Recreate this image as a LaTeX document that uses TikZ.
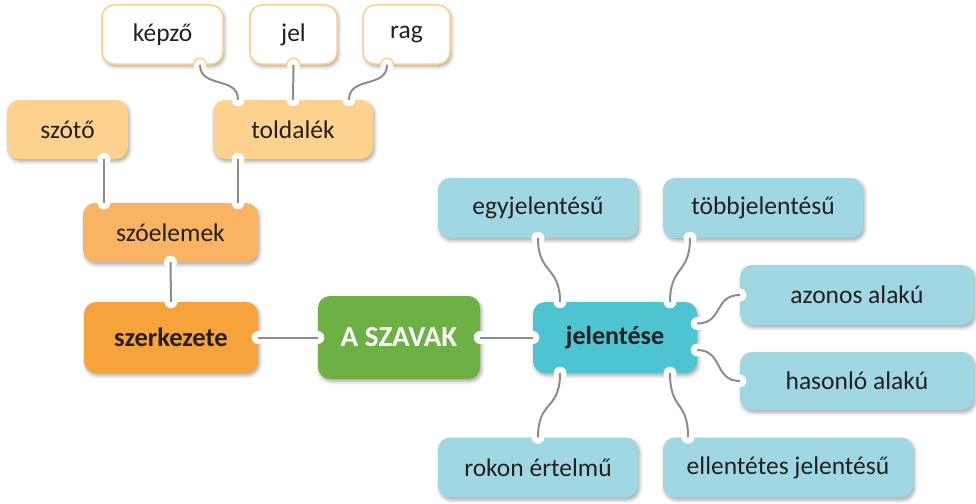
\documentclass[tikz,border=0pt]{standalone}
\usepackage{fontspec}
\setmainfont{Carlito}
\usetikzlibrary{shadows.blur,calc}
\definecolor{txt}{HTML}{231F20}
\definecolor{wborder}{HTML}{FBD08C}
\definecolor{lorange}{HTML}{FDD18E}
\definecolor{morange}{HTML}{F9B463}
\definecolor{dorange}{HTML}{F7A33B}
\definecolor{green}{HTML}{6DB043}
\definecolor{teal}{HTML}{4EC4D0}
\definecolor{lblue}{HTML}{9FD8E2}
\definecolor{linkc}{HTML}{8C8C8C}
\tikzset{
  box/.style={rectangle, rounded corners=12pt, minimum height=59pt, inner sep=0pt,
    text=txt, font=\fontsize{25.5}{29}\selectfont,
    blur shadow={shadow xshift=1.5pt, shadow yshift=-2.5pt, shadow blur radius=3.5pt, shadow opacity=35}},
  wbox/.style={box, fill=white, draw=wborder, line width=1.5pt},
  lobox/.style={box, fill=lorange},
  mobox/.style={box, fill=morange},
  dobox/.style={box, fill=dorange, minimum height=71pt, font=\fontsize{26.5}{30}\selectfont\bfseries},
  gbox/.style={box, fill=green, minimum height=83pt, text=white, font=\fontsize{29}{32}\selectfont\bfseries},
  tbox/.style={box, fill=teal, minimum height=71pt, font=\fontsize{26}{30}\selectfont\bfseries},
  bbox/.style={box, fill=lblue, minimum height=60pt},
  link/.style={draw=linkc, line width=2pt},
  notchfill/.style={fill=white},
}
\begin{document}
\begin{tikzpicture}[x=1pt,y=-1pt]
\useasboundingbox (0,0) rectangle (976,503);
% nodes
\node[wbox, minimum width=121pt] (kepzo) at (162.5,34.5) {képző};
\node[wbox, minimum width=87pt] (jel) at (293.5,34.5) {jel};
\node[wbox, minimum width=87pt] (rag) at (406.5,34.5) {rag};
\node[lobox, minimum width=121pt] (szoto) at (67.5,129.5) {szótő};
\node[lobox, minimum width=160pt] (toldalek) at (293,129.5) {toldalék};
\node[mobox, minimum width=175pt] (szoelemek) at (170.5,232.5) {szóelemek};
\node[dobox, minimum width=174pt] (szerkezete) at (171,337.5) {szerkezete};
\node[gbox, minimum width=162pt] (szavak) at (399,337.5) {A SZAVAK};
\node[tbox, minimum width=164pt] (jelentese) at (615,337.5) {jelentése};
\node[bbox, minimum width=200pt] (egy) at (538,208) {egyjelentésű};
\node[bbox, minimum width=200pt] (tobb) at (763,208) {többjelentésű};
\node[bbox, minimum width=234pt] (azonos) at (857,295) {azonos alakú};
\node[bbox, minimum width=234pt, minimum height=58pt] (hasonlo) at (857,381) {hasonló alakú};
\node[bbox, minimum width=200pt] (rokon) at (538,467.5) {rokon értelmű};
\node[bbox, minimum width=250pt] (ellentetes) at (788,467.5) {ellentétes jelentésű};
% notch points
\coordinate (kepzo-s) at ([xshift=37.5pt]kepzo.south);
\coordinate (jel-s) at (jel.south);
\coordinate (rag-s) at ([xshift=-19.5pt]rag.south);
\coordinate (told-n1) at ([xshift=-55pt]toldalek.north);
\coordinate (told-n2) at (toldalek.north);
\coordinate (told-n3) at ([xshift=56pt]toldalek.north);
\coordinate (told-s) at ([xshift=-55pt]toldalek.south);
\coordinate (szoto-s) at ([xshift=36.5pt]szoto.south);
\coordinate (szoel-n1) at ([xshift=-66.5pt]szoelemek.north);
\coordinate (szoel-n2) at ([xshift=67.5pt]szoelemek.north);
\coordinate (szoel-s) at (szoelemek.south);
\coordinate (szerk-n) at (szerkezete.north);
\coordinate (szerk-e) at (szerkezete.east);
\coordinate (szavak-w) at (szavak.west);
\coordinate (szavak-e) at (szavak.east);
\coordinate (jelt-w) at (jelentese.west);
\coordinate (jelt-n1) at ([xshift=-55pt]jelentese.north);
\coordinate (jelt-n2) at ([xshift=55pt]jelentese.north);
\coordinate (jelt-s1) at ([xshift=-55pt]jelentese.south);
\coordinate (jelt-s2) at ([xshift=55pt]jelentese.south);
\coordinate (jelt-e1) at ([yshift=14pt]jelentese.east);
\coordinate (jelt-e2) at ([yshift=-12.5pt]jelentese.east);
\coordinate (egy-s) at (egy.south);
\coordinate (tobb-s) at ([xshift=-73pt]tobb.south);
\coordinate (azonos-w) at (azonos.west);
\coordinate (hasonlo-w) at (hasonlo.west);
\coordinate (rokon-n) at (rokon.north);
\coordinate (ellent-n) at ([xshift=-100pt]ellentetes.north);
% notches
\foreach \p in {kepzo-s,jel-s,rag-s,told-n1,told-n2,told-n3,told-s,szoto-s,szoel-n1,szoel-n2,szoel-s,
  szerk-n,szerk-e,szavak-w,szavak-e,jelt-w,jelt-n1,jelt-n2,jelt-s1,jelt-s2,jelt-e1,jelt-e2,
  egy-s,tobb-s,azonos-w,hasonlo-w,rokon-n,ellent-n}
  \fill[notchfill] (\p) circle (6.5);
\foreach \p in {kepzo-s,jel-s,rag-s}
  \draw[wborder, line width=1.5pt] ($(\p)+(6.5,0)$) arc (0:-180:6.5);
% connectors
\draw[link] (kepzo-s) .. controls +(0,24) and +(0,-24) .. (told-n1);
\draw[link] (jel-s) -- (told-n2);
\draw[link] (rag-s) .. controls +(0,24) and +(0,-24) .. (told-n3);
\draw[link] (szoto-s) -- (szoel-n1);
\draw[link] (told-s) -- (szoel-n2);
\draw[link] (szoel-s) -- (szerk-n);
\draw[link] (szerk-e) -- (szavak-w);
\draw[link] (szavak-e) -- (jelt-w);
\draw[link] (egy-s) .. controls +(0,36) and +(0,-36) .. (jelt-n1);
\draw[link] (tobb-s) .. controls +(0,36) and +(0,-36) .. (jelt-n2);
\draw[link] (jelt-e1) .. controls +(26,0) and +(-26,0) .. (azonos-w);
\draw[link] (jelt-e2) .. controls +(26,0) and +(-26,0) .. (hasonlo-w);
\draw[link] (jelt-s1) .. controls +(0,38) and +(0,-38) .. (rokon-n);
\draw[link] (jelt-s2) .. controls +(0,38) and +(0,-38) .. (ellent-n);
\end{tikzpicture}
\end{document}
